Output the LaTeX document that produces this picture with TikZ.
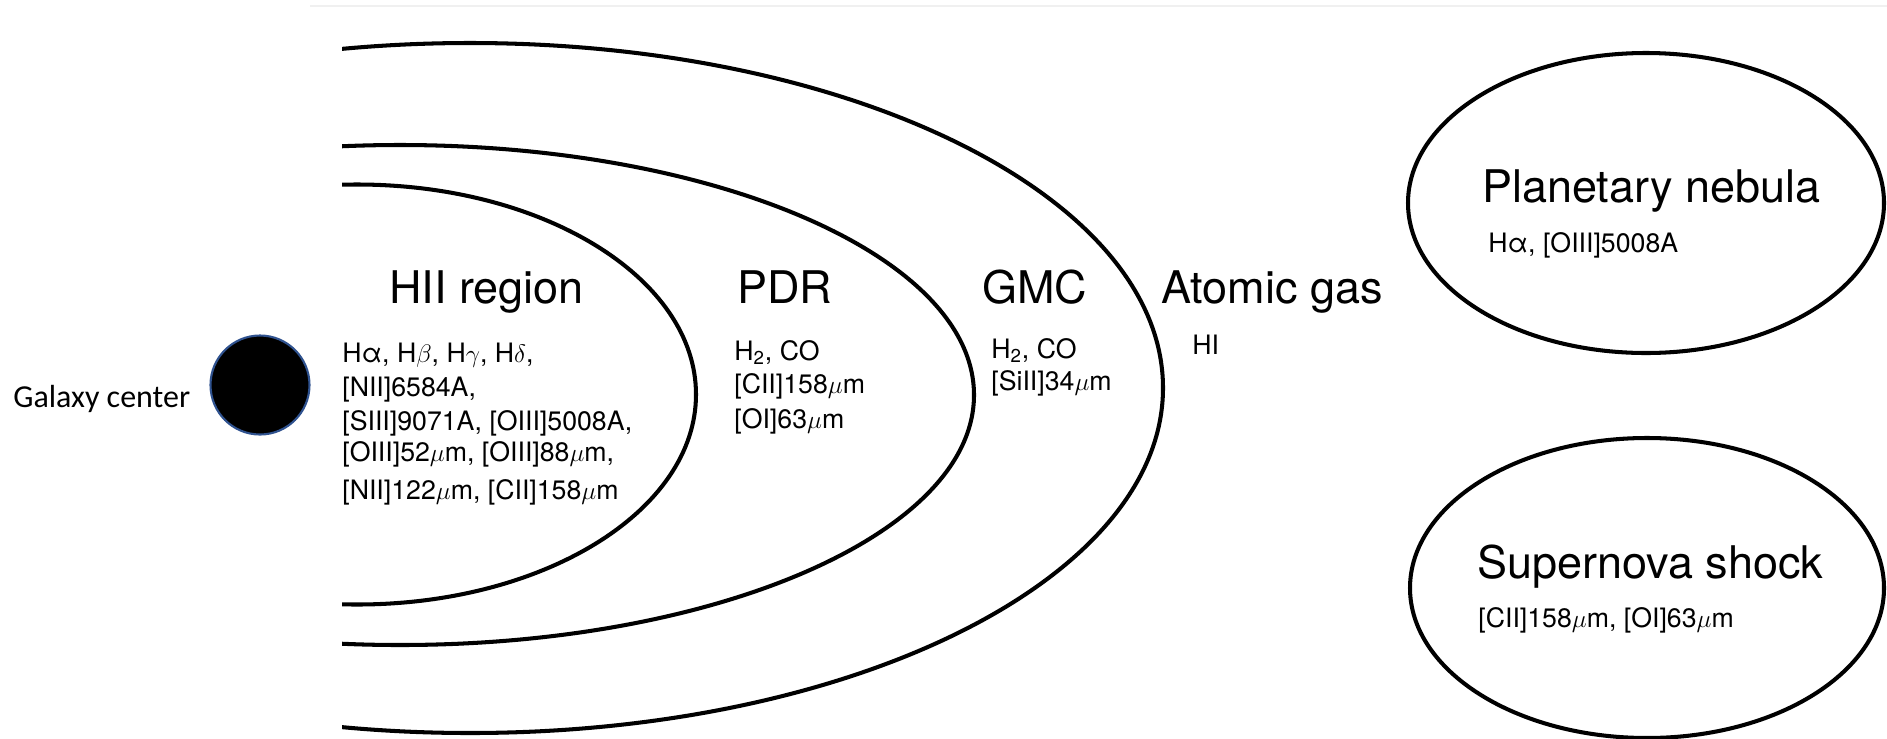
\documentclass[tikz,border=0pt]{standalone}
\usepackage{fontspec}
\setmainfont{TeX Gyre Heros}
\newfontfamily\calibri{Carlito}
\definecolor{coreblue}{RGB}{47,82,143}

\begin{document}
\begin{tikzpicture}[x=0.2mm, y=-0.2mm,
    shell/.style={line width=2.3pt},
    title/.style={anchor=base west, inner sep=0pt, font=\fontsize{25.6}{30}\selectfont},
    lines/.style={anchor=base west, inner sep=0pt, align=left, font=\fontsize{15.2}{18}\selectfont}]

    % constants
    \def\ytitle{303}

    % frame
    \useasboundingbox (0,0) rectangle (1887,738);
    \draw[black!6, line width=0.6pt] (310,6) -- (1887,6);

    % galaxy center
    \node (core) [circle, fill=black, draw=coreblue, line width=1.2pt, minimum size=19.8mm, inner sep=0pt] at (260,385) {};
    \node (galaxy) [anchor=base west, inner sep=0pt, font=\calibri\fontsize{18.2}{21}\selectfont] at (13,407) {Galaxy center};

    % nested shells
    \begin{scope}
        \clip (342,0) rectangle (1887,738);
        \draw[shell] (357,394.5) ellipse [x radius=339, y radius=210];
        \draw[shell] (400,395) ellipse [x radius=574, y radius=250];
        \draw[shell] (470,388) ellipse [x radius=693, y radius=345];
    \end{scope}

    % isolated sources
    \draw[shell] (1646,203) ellipse [x radius=238, y radius=150];
    \draw[shell] (1647,588) ellipse [x radius=237, y radius=150];

    % region names
    \node (hii) [title] at (389,\ytitle) {HII region};
    \node (pdr) [title] at (737,\ytitle) {PDR};
    \node (gmc) [title] at (982,\ytitle) {GMC};
    \node (atomic) [title] at (1161,\ytitle) {Atomic gas};
    \node (pn) [title] at (1482,202) {Planetary nebula};
    \node (sn) [title] at (1477,578) {Supernova shock};

    % emission lines (base = last line)
    \node (hiilines) [lines] at (342,499) {Hα, H$\beta$, H$\gamma$, H$\delta$,\\[1.3pt]
        [NII]6584A,\\[1.3pt]
        [SIII]9071A, [OIII]5008A,\\[-0.4pt]
        [OIII]52$\mu$m, [OIII]88$\mu$m,\\[3.5pt]
        [NII]122$\mu$m, [CII]158$\mu$m};
    \node (pdrlines) [lines] at (734,428) {H\textsubscript{2}, CO\\[0.7pt]
        [CII]158$\mu$m\\[1.8pt]
        [OI]63$\mu$m};
    \node (gmclines) [lines] at (991,390) {H\textsubscript{2}, CO\\[0pt]
        [SiII]34$\mu$m};
    \node (atomiclines) [lines] at (1192,354) {HI};
    \node (pnlines) [lines] at (1488,252) {Hα, [OIII]5008A};
    \node (snlines) [lines] at (1478,627) {[CII]158$\mu$m, [OI]63$\mu$m};

\end{tikzpicture}
\end{document}
